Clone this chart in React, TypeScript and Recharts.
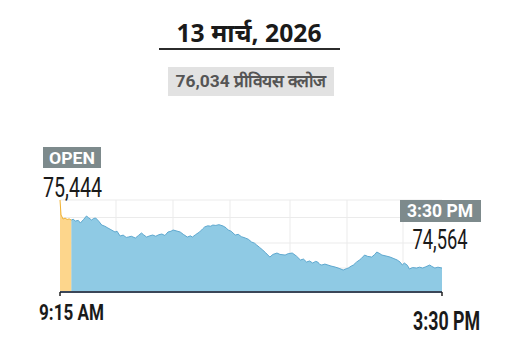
import { Area, CartesianGrid, ComposedChart, XAxis, YAxis } from "recharts";

// minutes after 9:15 AM
const minutes = [
  0, 1, 2, 3, 5, 7, 9, 11, 13, 15, 18, 20, 23, 26, 28, 31, 33, 35, 38, 41, 44, 47, 50, 54, 56, 59, 62, 65, 67, 70,
  74, 77, 80, 82, 85, 88, 91, 94, 97, 100, 103, 106, 109, 111, 114, 118, 121, 125, 128, 130, 133, 137, 140, 142,
  145, 148, 150, 153, 156, 160, 163, 165, 168, 172, 175, 178, 182, 185, 188, 191, 193, 196, 199, 202, 206, 209,
  213, 216, 221, 224, 228, 232, 236, 239, 242, 245, 248, 251, 253, 255, 257, 260, 263, 266, 270, 274, 278, 281,
  283, 286, 288, 291, 294, 296, 299, 302, 306, 309, 311, 314, 316, 320, 324, 327, 331, 334, 336, 338, 341, 343,
  346, 350, 353, 356, 359, 363, 365, 368, 371, 375,
];
const sensex = [
  75444, 75250, 75225, 75198, 75210, 75192, 75200, 75185, 75195, 75172, 75180, 75146, 75190, 75237, 75215, 75185,
  75205, 75211, 75170, 75120, 75105, 75082, 75060, 75030, 75040, 74978, 74990, 74960, 74965, 74975, 74952, 74985,
  75017, 74995, 74965, 74980, 74991, 74975, 74995, 75004, 74985, 75030, 75040, 75056, 75045, 75030, 75000, 74965,
  74980, 74965, 74995, 75030, 75070, 75095, 75110, 75105, 75120, 75115, 75125, 75108, 75085, 75056, 75040, 74991,
  75000, 74970, 74952, 74935, 74901, 74885, 74862, 74830, 74797, 74760, 74706, 74740, 74758, 74740, 74732, 74750,
  74758, 74720, 74668, 74680, 74642, 74655, 74629, 74650, 74642, 74610, 74603, 74615, 74603, 74590, 74577, 74560,
  74538, 74555, 74564, 74590, 74603, 74640, 74668, 74690, 74732, 74715, 74706, 74740, 74771, 74750, 74732, 74720,
  74706, 74690, 74668, 74640, 74603, 74629, 74600, 74551, 74570, 74564, 74575, 74564, 74580, 74603, 74585, 74564,
  74575, 74564,
];
const openingEnd = 11; // minutes shown in orange
const title = "13 मार्च, 2026";
const prevClose = "76,034 प्रीवियस क्लोज";
const openValue = "75,444";
const closeValue = "74,564";
const xLabels = ["9:15 AM", "3:30 PM"];

const rows = minutes.map((t, i) => ({
  t,
  opening: t <= openingEnd ? sensex[i] : null,
  session: t >= openingEnd ? sensex[i] : null,
}));

const narrow = "'Liberation Sans Narrow', 'Roboto', sans-serif";

function TimeTick(props: any) {
  const { x, y, index } = props;
  if (index === 0) {
    return (
      <text x={x - 21} y={y + 22} fontFamily={narrow} fontWeight={700} fontSize={22} fill="#1a1a1a"
        textLength={65} lengthAdjust="spacingAndGlyphs">
        {xLabels[0]}
      </text>
    );
  }
  return (
    <text x={x + 38} y={y + 32} textAnchor="end" fontFamily={narrow} fontWeight={700} fontSize={25} fill="#1a1a1a"
      textLength={67} lengthAdjust="spacingAndGlyphs">
      {xLabels[1]}
    </text>
  );
}

export default function App() {
  return (
    <div style={{ position: "absolute", left: 0, top: 0, width: 509, height: 342, background: "#fff" }}>
      <ComposedChart width={509} height={342} data={rows} margin={{ top: 200, right: 67, bottom: 0, left: 60 }}>
        <CartesianGrid stroke="#ebebeb" verticalPoints={[116, 173, 230, 290, 347, 403]} />
        <XAxis
          dataKey="t"
          type="number"
          domain={[0, 375]}
          ticks={[0, 375]}
          height={50}
          axisLine={{ stroke: "#3b4658", strokeWidth: 2 }}
          tickLine={{ stroke: "#222", strokeWidth: 1.5 }}
          tickSize={4}
          tick={<TimeTick />}
        />
        <YAxis hide type="number" domain={[74254, 75444]} ticks={[74564, 74888, 75218]} />
        <Area
          dataKey="session"
          type="linear"
          stroke="#5ea8cf"
          strokeWidth={1}
          fill="#8fcae4"
          fillOpacity={1}
          isAnimationActive={false}
          dot={false}
        />
        <Area
          dataKey="opening"
          type="linear"
          stroke="#f0b232"
          strokeWidth={1}
          fill="#fdd68c"
          fillOpacity={1}
          isAnimationActive={false}
          dot={false}
        />
      </ComposedChart>
      <svg width={509} height={342} style={{ position: "absolute", left: 0, top: 0, pointerEvents: "none" }}>
        <text x={249} y={42} textAnchor="middle" fontFamily="'Noto Sans', 'DejaVu Sans', sans-serif" fontWeight={700}
          fontSize={25} fill="#1a1a1a" textLength={145} lengthAdjust="spacingAndGlyphs">
          {title}
        </text>
        <line x1={159} x2={340} y1={49} y2={49} stroke="#2b2b2b" strokeWidth={2} />
        <rect x={168} y={67} width={166} height={29} fill="#e2e2e2" />
        <text x={251} y={87} textAnchor="middle" fontFamily={narrow} fontWeight={700} fontSize={17} fill="#555"
          textLength={151} lengthAdjust="spacingAndGlyphs">
          {prevClose}
        </text>
        <rect x={43} y={147} width={58} height={21} fill="#7d8a8c" />
        <text x={72} y={164} textAnchor="middle" fontFamily={narrow} fontWeight={700} fontSize={17} fill="#fff"
          textLength={46} lengthAdjust="spacingAndGlyphs">
          OPEN
        </text>
        <text x={43} y={197} fontFamily={narrow} fontSize={27} fill="#1a1a1a" textLength={59}
          lengthAdjust="spacingAndGlyphs">
          {openValue}
        </text>
        <rect x={400} y={200} width={81} height={22} fill="#7d8a8c" />
        <text x={440} y={217} textAnchor="middle" fontFamily={narrow} fontWeight={700} fontSize={18} fill="#fff"
          textLength={66} lengthAdjust="spacingAndGlyphs">
          3:30 PM
        </text>
        <text x={440} y={249} textAnchor="middle" fontFamily={narrow} fontSize={27} fill="#1a1a1a" textLength={55}
          lengthAdjust="spacingAndGlyphs">
          {closeValue}
        </text>
      </svg>
    </div>
  );
}
